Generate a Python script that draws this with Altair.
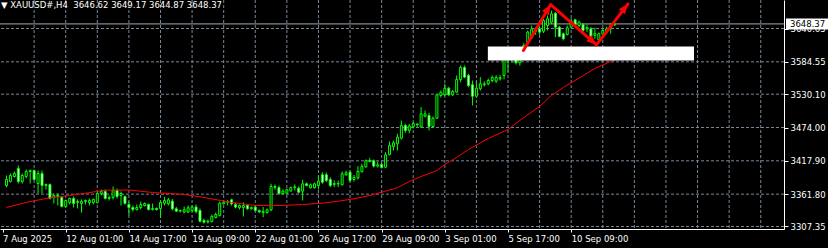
import altair as alt
import pandas as pd

# ---------------- data ----------------
symbol = "XAUUSD#,H4"
last_ohlc = ["3646.62", "3649.17", "3644.87", "3648.37"]
current_price = [3648.37]

price_ticks = [3307.35, 3361.80, 3417.90, 3474.00, 3530.10, 3584.55, 3640.65]
time_tick_bars = [-1, 15, 31, 47, 63, 79, 95, 111, 127, 143]
time_tick_labels = ["7 Aug 2025", "12 Aug 01:00", "14 Aug 17:00", "19 Aug 09:00",
                    "22 Aug 01:00", "26 Aug 17:00", "29 Aug 09:00", "3 Sep 01:00",
                    "5 Sep 17:00", "10 Sep 09:00"]
grid_bars = [7, 15, 23, 31, 39, 47, 55, 63, 71, 79, 87, 95, 103, 111, 119, 127,
             135, 143, 151, 159, 167, 175, 183, 191]

opens = [3376.4, 3383.1, 3391.5, 3405.0, 3383.1, 3391.5, 3400.0, 3401.6, 3379.7, 3396.6,
         3376.4, 3378.1, 3356.2, 3359.5, 3356.2, 3341.0, 3347.8, 3354.5, 3347.8, 3346.1,
         3349.4, 3347.8, 3347.8, 3347.8, 3362.9, 3366.3, 3354.5, 3356.2, 3368.0, 3359.5,
         3357.9, 3344.4, 3339.3, 3336.0, 3339.3, 3342.7, 3344.4, 3336.0, 3337.7, 3337.7,
         3346.6, 3345.6, 3350.0, 3337.2, 3333.2, 3331.8, 3331.8, 3334.3, 3340.2, 3334.3,
         3317.5, 3315.0, 3315.8, 3322.5, 3325.9, 3345.6, 3348.4, 3352.3, 3344.4, 3339.3,
         3339.3, 3342.7, 3337.2, 3340.0, 3334.3, 3330.9, 3330.9, 3335.5, 3374.7, 3372.8,
         3362.7, 3363.4, 3367.1, 3372.8, 3371.8, 3366.8, 3379.2, 3372.5, 3372.5, 3376.4,
         3394.4, 3394.4, 3386.5, 3378.1, 3379.7, 3377.6, 3394.4, 3398.8, 3386.5, 3389.3,
         3399.8, 3407.5, 3416.8, 3418.0, 3409.0, 3412.0, 3407.2, 3428.6, 3442.0, 3446.6,
         3456.0, 3477.4, 3469.0, 3475.0, 3479.8, 3475.0, 3493.0, 3494.2, 3475.7, 3489.7,
         3527.9, 3529.0, 3540.1, 3529.0, 3533.5, 3554.8, 3575.0, 3561.6, 3545.9, 3526.7,
         3539.2, 3545.9, 3547.5, 3553.1, 3552.0, 3556.0, 3561.6, 3595.2, 3600.0, 3596.0,
         3583.0, 3598.0, 3617.6, 3625.0, 3640.0, 3640.0, 3636.0, 3645.7, 3651.3, 3666.4,
         3642.8, 3631.7, 3630.6, 3642.8, 3655.3, 3645.7, 3647.4, 3640.0, 3640.0, 3629.0,
         3621.6, 3631.7, 3635.0, 3640.3, 3646.62]
closes = [3386.5, 3393.2, 3396.6, 3383.1, 3393.2, 3400.0, 3401.6, 3386.5, 3396.6, 3376.4,
          3378.1, 3354.5, 3359.5, 3357.9, 3341.0, 3351.1, 3354.5, 3346.1, 3349.4, 3349.4,
          3351.1, 3351.1, 3352.8, 3362.9, 3366.3, 3354.5, 3356.2, 3368.0, 3357.9, 3362.9,
          3346.1, 3339.3, 3336.0, 3339.3, 3344.4, 3346.1, 3336.0, 3337.7, 3336.0, 3347.8,
          3351.1, 3352.3, 3337.2, 3333.2, 3334.3, 3335.5, 3338.8, 3340.2, 3332.6, 3316.3,
          3314.6, 3316.5, 3324.2, 3327.6, 3346.6, 3348.4, 3348.9, 3345.6, 3340.0, 3342.7,
          3342.7, 3337.2, 3339.3, 3334.3, 3332.0, 3333.0, 3335.5, 3374.7, 3373.0, 3362.7,
          3367.1, 3369.2, 3372.8, 3374.0, 3365.1, 3379.2, 3376.4, 3377.4, 3379.2, 3383.6,
          3381.9, 3384.8, 3376.4, 3379.7, 3379.0, 3396.1, 3397.8, 3384.8, 3389.8, 3400.0,
          3408.4, 3418.0, 3418.5, 3409.0, 3411.2, 3406.7, 3428.0, 3443.7, 3448.3, 3457.7,
          3477.4, 3469.0, 3476.6, 3480.7, 3478.6, 3497.0, 3497.0, 3475.7, 3489.7, 3529.0,
          3533.4, 3540.1, 3529.0, 3534.6, 3554.8, 3575.0, 3558.7, 3544.7, 3526.7, 3540.1,
          3547.5, 3547.5, 3553.1, 3558.2, 3558.2, 3558.0, 3595.2, 3600.0, 3596.0, 3583.0,
          3598.0, 3612.0, 3634.5, 3640.0, 3636.0, 3634.5, 3654.0, 3657.0, 3665.4, 3642.8,
          3627.2, 3623.3, 3641.8, 3653.0, 3647.4, 3651.3, 3637.3, 3642.3, 3627.2, 3632.3,
          3631.7, 3637.3, 3640.3, 3646.6, 3648.37]
highs = [3393.2, 3396.6, 3400.0, 3410.1, 3396.6, 3403.3, 3403.3, 3403.3, 3401.6, 3401.6,
         3379.7, 3379.7, 3362.9, 3362.9, 3357.9, 3352.8, 3356.2, 3357.9, 3352.8, 3352.8,
         3352.8, 3354.5, 3354.5, 3364.6, 3369.6, 3369.6, 3359.5, 3374.7, 3371.3, 3366.3,
         3359.5, 3349.4, 3342.7, 3344.4, 3349.4, 3347.8, 3346.1, 3346.1, 3339.3, 3351.1,
         3357.0, 3355.4, 3353.7, 3340.3, 3336.0, 3341.0, 3342.7, 3342.7, 3344.4, 3337.7,
         3320.8, 3319.1, 3327.6, 3330.9, 3349.4, 3351.1, 3351.9, 3354.0, 3347.8, 3344.4,
         3347.8, 3344.4, 3341.0, 3342.7, 3336.0, 3340.2, 3337.7, 3379.2, 3378.1, 3376.4,
         3369.6, 3371.3, 3374.7, 3378.1, 3374.7, 3386.0, 3381.4, 3379.7, 3381.4, 3393.2,
         3398.8, 3398.0, 3390.4, 3384.8, 3384.8, 3400.0, 3401.6, 3401.6, 3394.0, 3409.0,
         3413.4, 3420.2, 3423.0, 3420.2, 3416.8, 3415.1, 3432.5, 3450.4, 3452.1, 3463.4,
         3485.8, 3480.3, 3480.0, 3483.5, 3480.8, 3508.2, 3502.6, 3498.7, 3492.6, 3530.7,
         3536.3, 3547.5, 3542.5, 3537.0, 3561.6, 3578.4, 3578.4, 3564.4, 3553.1, 3551.5,
         3558.7, 3551.5, 3556.5, 3561.6, 3562.0, 3562.0, 3600.0, 3606.0, 3607.0, 3600.0,
         3604.0, 3616.0, 3637.3, 3645.7, 3643.0, 3645.0, 3658.0, 3662.5, 3671.0, 3668.1,
         3645.0, 3634.0, 3645.7, 3658.0, 3657.0, 3654.0, 3650.0, 3647.4, 3643.0, 3641.8,
         3634.0, 3640.0, 3644.0, 3650.0, 3649.17]
lows = [3373.0, 3381.4, 3389.8, 3379.7, 3379.7, 3388.2, 3379.7, 3384.8, 3362.9, 3362.9,
        3369.6, 3352.8, 3346.1, 3342.7, 3339.3, 3339.3, 3344.4, 3339.3, 3337.7, 3330.9,
        3344.4, 3342.7, 3344.4, 3346.1, 3359.5, 3352.8, 3351.1, 3352.8, 3354.5, 3342.7,
        3344.4, 3325.9, 3332.6, 3334.3, 3336.0, 3341.0, 3334.3, 3334.3, 3334.3, 3322.5,
        3342.7, 3342.7, 3334.3, 3331.6, 3330.9, 3329.2, 3330.0, 3332.0, 3329.2, 3314.1,
        3312.4, 3312.4, 3314.1, 3320.8, 3324.2, 3344.4, 3342.7, 3342.7, 3338.0, 3336.0,
        3324.2, 3335.5, 3335.5, 3332.6, 3330.0, 3323.0, 3329.2, 3333.0, 3369.2, 3361.2,
        3361.2, 3361.2, 3366.3, 3368.0, 3362.9, 3351.1, 3374.7, 3371.3, 3371.3, 3369.6,
        3379.2, 3382.0, 3373.5, 3373.5, 3373.5, 3376.4, 3392.7, 3382.0, 3383.1, 3386.5,
        3398.0, 3406.7, 3415.1, 3406.7, 3406.7, 3405.0, 3405.5, 3426.9, 3435.3, 3435.3,
        3453.8, 3465.0, 3464.0, 3472.3, 3475.0, 3473.2, 3491.0, 3469.0, 3474.0, 3488.7,
        3524.5, 3526.6, 3526.6, 3527.0, 3532.4, 3550.3, 3557.0, 3541.8, 3511.0, 3525.0,
        3536.3, 3543.0, 3545.0, 3550.0, 3549.0, 3553.0, 3555.0, 3567.0, 3583.0, 3580.0,
        3578.0, 3594.0, 3612.1, 3623.8, 3630.0, 3630.0, 3633.0, 3637.3, 3648.0, 3626.0,
        3626.0, 3620.5, 3628.9, 3641.0, 3645.0, 3643.0, 3635.0, 3634.5, 3625.0, 3623.3,
        3618.8, 3628.0, 3631.0, 3632.0, 3644.87]

ma_bars = [0, 5, 10, 16, 20, 25, 31, 37, 45, 50, 57, 63, 70, 75, 80, 84, 88, 92, 95, 99,
           102, 105, 109, 111, 114, 117, 122, 127, 131, 135, 138, 141, 145, 149, 153, 154]
ma_values = [3339.3, 3347.8, 3354.5, 3359.5, 3363.4, 3368.5, 3368.8, 3364.6, 3361.2, 3356.2,
             3347.8, 3342.7, 3342.7, 3344.4, 3346.6, 3349.9, 3354.0, 3359.5, 3365.1, 3372.5,
             3383.1, 3391.5, 3401.6, 3411.7, 3423.5, 3437.0, 3455.5, 3470.6, 3490.8, 3509.3,
             3527.9, 3541.3, 3557.3, 3573.3, 3585.1, 3587.6]

box_bars = [121.9, 174.1]
box_prices = [3586.8, 3610.3]

arrow_bars = [130.9, 137.8, 149.4, 157.4]
arrow_prices = [3603.6, 3681.0, 3613.2, 3682.2]
head_angles = [31, 131, 38]

# ---------------- tables ----------------
candles = pd.DataFrame({"i": list(range(len(opens))), "o": opens, "h": highs,
                        "l": lows, "c": closes})
candles["dir"] = ["down" if c < o else "up" for o, c in zip(opens, closes)]
ma_df = pd.DataFrame({"i": ma_bars, "v": ma_values})
box_df = pd.DataFrame({"x1": [box_bars[0]], "x2": [box_bars[1]],
                       "y1": [box_prices[0]], "y2": [box_prices[1]]})
arrow_df = pd.DataFrame({"i": arrow_bars, "p": arrow_prices, "k": list(range(len(arrow_bars)))})
head_df = pd.DataFrame({"i": arrow_bars[1:], "p": arrow_prices[1:], "a": head_angles})
vgrid_df = pd.DataFrame({"i": grid_bars})
hgrid_df = pd.DataFrame({"p": price_ticks})
price_df = pd.DataFrame({"p": current_price, "t": [f"{current_price[0]:.2f}"]})
title_df = pd.DataFrame({"t": ["\u25BC " + symbol + "\u00a0\u00a0" + " ".join(last_ohlc)]})

FONT = "DejaVu Sans"
GREEN = "#00ff00"
GRID = "#778899"

xs = alt.Scale(domain=[-0.375, 195.625], nice=False, zero=False)
ys = alt.Scale(domain=[3303.14, 3688.63], nice=False, zero=False)

label_expr = ("[" + ",".join(f"'{t}'" for t in time_tick_labels) + "][indexof("
              + "[" + ",".join(str(v) for v in time_tick_bars) + "], datum.value)]")

x_axis = alt.Axis(values=time_tick_bars, labelExpr=label_expr, title=None, grid=False,
                  domainColor="#ffffff", tickColor="#ffffff", tickSize=3, tickWidth=1,
                  labelColor="#ffffff", labelFont=FONT, labelFontSize=8.5,
                  labelAlign="left", labelBaseline="top", labelPadding=2,
                  labelFlush=False, labelOverlap=False, labelBound=False)
y_axis = alt.Axis(orient="right", values=price_ticks, format=".2f", title=None, grid=False,
                  domainColor="#ffffff", tickColor="#ffffff", tickSize=4, tickWidth=1,
                  labelColor="#ffffff", labelFont=FONT, labelFontSize=8.5,
                  labelPadding=2, labelFlush=False, labelOverlap=False, labelBound=False)


def X(field):
    return alt.X(field, scale=xs, axis=x_axis, title=None)


def Y(field):
    return alt.Y(field, scale=ys, axis=y_axis, title=None)


vgrid = alt.Chart(vgrid_df).mark_rule(color=GRID, strokeDash=[3, 2], strokeWidth=1).encode(
    x=X("i:Q"))
hgrid = alt.Chart(hgrid_df).mark_rule(color=GRID, strokeDash=[3, 2], strokeWidth=1).encode(
    y=Y("p:Q"))
pline = alt.Chart(price_df).mark_rule(color="#a8a8a8", strokeWidth=1).encode(
    y=Y("p:Q"))
wicks = alt.Chart(candles).mark_rule(color=GREEN, strokeWidth=1).encode(
    x=X("i:Q"), y=Y("l:Q"), y2="h:Q")
bodies = alt.Chart(candles).mark_bar(size=2, stroke=GREEN, strokeWidth=1, opacity=1).encode(
    x=X("i:Q"), y=Y("o:Q"), y2="c:Q",
    fill=alt.Fill("dir:N", scale=alt.Scale(domain=["up", "down"], range=["#000000", "#ffffff"]),
                  legend=None))
ma = alt.Chart(ma_df).mark_line(color="#ff0000", strokeWidth=1).encode(
    x=X("i:Q"), y=Y("v:Q"))
box = alt.Chart(box_df).mark_rect(color="#ffffff", opacity=1).encode(
    x=X("x1:Q"), x2="x2:Q", y=Y("y1:Q"), y2="y2:Q")
arrow = alt.Chart(arrow_df).mark_line(color="#ff0000", strokeWidth=3, strokeJoin="round",
                                      strokeCap="round").encode(
    x=X("i:Q"), y=Y("p:Q"), order="k:Q")
heads = alt.Chart(head_df).mark_point(shape="M0,0L0.8,2L-0.8,2Z", filled=True, size=100,
                                      color="#ff0000", opacity=1).encode(
    x=X("i:Q"), y=Y("p:Q"), angle=alt.Angle("a:Q", scale=None))
title = alt.Chart(title_df).mark_text(align="left", baseline="top", color="#ffffff",
                                      font=FONT, fontSize=8.5).encode(
    x=alt.value(1), y=alt.value(1), text="t:N")
pbox = alt.Chart(price_df).mark_tick(orient="horizontal", color="#ffffff", thickness=11,
                                     size=42, opacity=1).encode(
    x=alt.value(807), y=Y("p:Q"))
ptext = alt.Chart(price_df).mark_text(align="left", baseline="middle", color="#000000",
                                      font=FONT, fontSize=8.5).encode(
    x=alt.value(790), y=Y("p:Q"), text="t:N")

chart = alt.layer(vgrid, hgrid, pline, wicks, bodies, ma, box, arrow, heads, title,
                  pbox, ptext).properties(
    width=784, height=229,
    padding={"left": 0, "top": 0, "right": 44, "bottom": 19},
    autosize=alt.AutoSizeParams(type="none"),
    background="#000000",
).configure_view(stroke=None)

chart.save("out.html", embed_options={"renderer": "svg", "actions": False})
